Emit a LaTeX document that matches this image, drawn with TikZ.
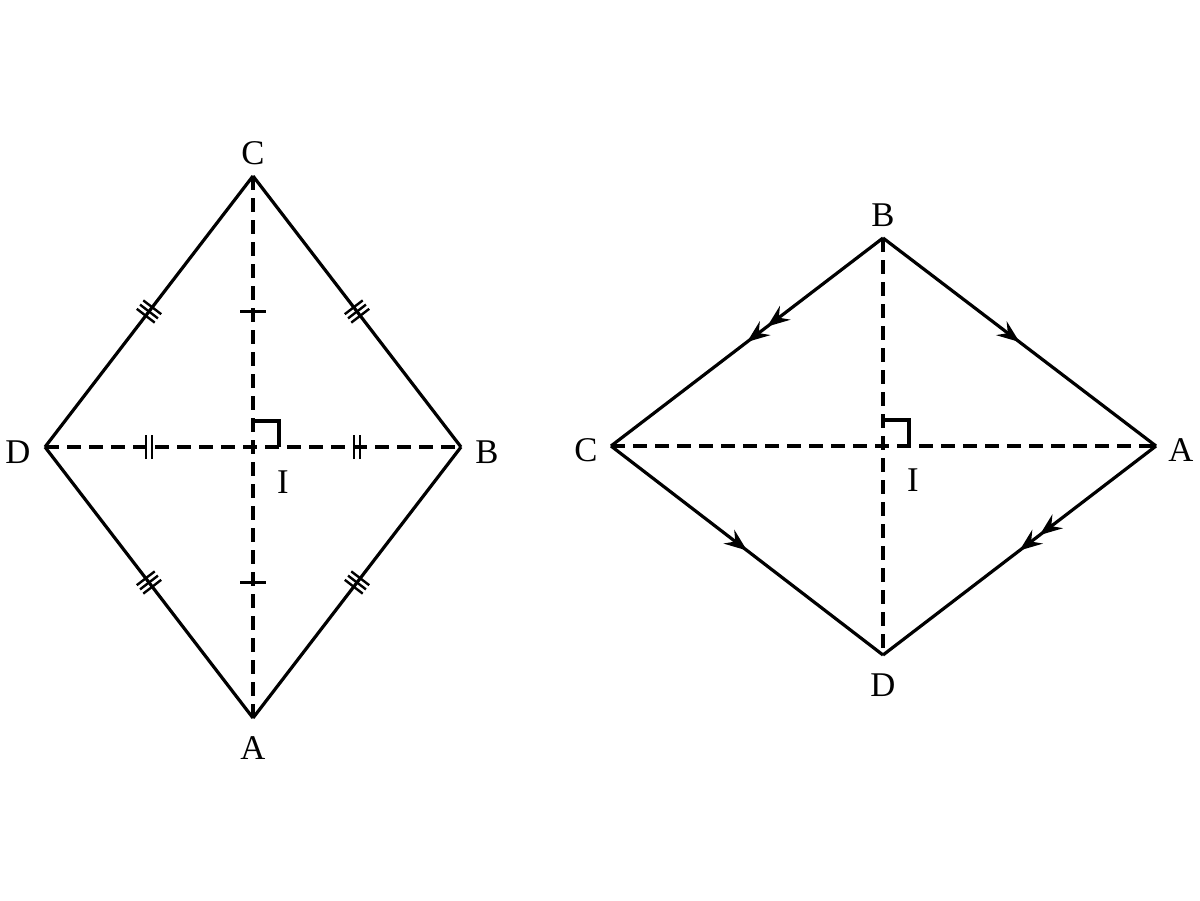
\documentclass[tikz,border=0pt]{standalone}
\usepackage{fontspec}
\setmainfont{Liberation Serif}
\usetikzlibrary{decorations.markings,arrows.meta}
\tikzset{myarr/.tip={Stealth[length=17pt,width=13pt,inset=6pt]}}
\begin{document}
\begin{tikzpicture}[x=0.75pt,y=-0.75pt,
  side/.style={line width=2.4pt, line join=miter},
  diag/.style={line width=2.4pt, dash pattern=on 10.5pt off 6pt},
  lbl/.style={font=\fontsize{26}{28}\selectfont, inner sep=0pt},
  tk/.style={solid, line width=1.8pt},
  tripletick/.style={postaction={decorate}, decoration={markings,
    mark=at position 0.5 with {\draw[tk] (-4pt,-8.5pt)--(-4pt,8.5pt) (0pt,-8.5pt)--(0pt,8.5pt) (4pt,-8.5pt)--(4pt,8.5pt);}}},
  doubletick/.style={postaction={decorate}, decoration={markings,
    mark=at position 0.25 with {\draw[tk] (-2.2pt,-9pt)--(-2.2pt,9pt) (2.2pt,-9pt)--(2.2pt,9pt);},
    mark=at position 0.75 with {\draw[tk] (-2.2pt,-9pt)--(-2.2pt,9pt) (2.2pt,-9pt)--(2.2pt,9pt);}}},
  singletick/.style={postaction={decorate}, decoration={markings,
    mark=at position 0.25 with {\draw[tk] (0pt,-9.5pt)--(0pt,9.5pt);},
    mark=at position 0.75 with {\draw[tk] (0pt,-9.5pt)--(0pt,9.5pt);}}},
  onearrow/.style={postaction={decorate}, decoration={markings,
    mark=at position 0.5 with {\arrow{myarr}}}},
  twoarrows/.style={postaction={decorate}, decoration={markings,
    mark=at position 0.5 with {\arrow{myarr}},
    mark=at position 0.5 with {\pgftransformxshift{-19pt}\arrow{myarr}}}},
  rang/.style={line width=2.4pt, solid}
]
\useasboundingbox (0,0) rectangle (1200,900);

% Left rhombus
\coordinate (C1) at (253,176);
\coordinate (D1) at (45,447);
\coordinate (B1) at (461,447);
\coordinate (A1) at (253,718);
\coordinate (I1) at (253,447);

\draw[side, tripletick] (D1) -- (C1);
\draw[side, tripletick] (C1) -- (B1);
\draw[side, tripletick] (B1) -- (A1);
\draw[side, tripletick] (A1) -- (D1);
\draw[diag, doubletick] (D1) -- (B1);
\draw[diag, singletick] (C1) -- (A1);
\draw[rang] (253,421) -- (279,421) -- (279,447);

\node[lbl] (lC1) at (253,153) {C};
\node[lbl] (lD1) at (18,452) {D};
\node[lbl] (lB1) at (487,452) {B};
\node[lbl] (lA1) at (253,748) {A};
\node[lbl] (lI1) at (283,482) {I};

% Right rhombus
\coordinate (B2) at (883,238);
\coordinate (C2) at (611,446);
\coordinate (A2) at (1156,446);
\coordinate (D2) at (883,655);
\coordinate (I2) at (883,446);

\draw[side, twoarrows] (B2) -- (C2);
\draw[side, onearrow] (B2) -- (A2);
\draw[side, onearrow] (C2) -- (D2);
\draw[side, twoarrows] (A2) -- (D2);
\draw[diag] (C2) -- (A2);
\draw[diag] (B2) -- (D2);
\draw[rang] (883,420) -- (909,420) -- (909,446);

\node[lbl] (lB2) at (883,215) {B};
\node[lbl] (lC2) at (586,450) {C};
\node[lbl] (lA2) at (1181,450) {A};
\node[lbl] (lD2) at (883,685) {D};
\node[lbl] (lI2) at (913,480) {I};
\end{tikzpicture}
\end{document}
